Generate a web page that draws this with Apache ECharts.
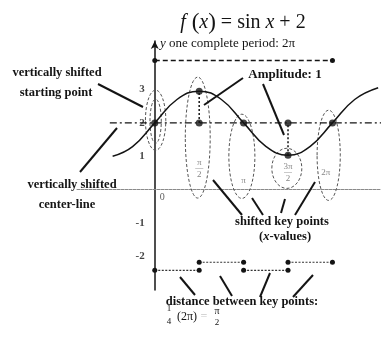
<!DOCTYPE html>
<html>
<head>
<meta charset="utf-8">
<script src="https://cdn.jsdelivr.net/npm/echarts@6/dist/echarts.min.js"></script>
<style>
html, body { margin: 0; padding: 0; background: #fff; }
#main { width: 381px; height: 347px; }
</style>
</head>
<body>
<div id="main"></div>
<script>
// curve f(x) = sin x + 2 at quarter-period steps
var curveX = [-1.49, -0.785, 0, 0.785, 1.571, 2.356, 3.142, 3.927, 4.712, 5.498, 6.283, 7.069, 7.9];
var curveY = [1.0, 1.29, 2, 2.7, 2.95, 2.7, 2, 1.3, 1.03, 1.3, 2, 2.7, 3.05];

// key points on the curve and the center-line points under the extremes
var keyX = [0, 1.571, 3.142, 4.712, 6.283];
var keyY = [2, 2.95, 2, 1.03, 2];
var midX = [1.571, 4.712];
var midY = [2, 2];
var centerY = 2;

// labels of the key points (x-values)
var keyLabels = ['π/2', 'π', '3π/2', '2π'];
var keyLabelX = [1.571, 3.142, 4.712, 6.05];
var keyLabelY = [0.64, 0.28, 0.52, 0.52];

// distance between key points, bottom row
var segStart = [0, 1.571, 3.142, 4.712];
var segEnd = [1.571, 3.142, 4.712, 6.283];
var segY = [-2.41, -2.17, -2.41, -2.17];

// one complete period
var periodX = [0, 6.283];
var periodY = 3.87;

// y tick labels
var yTicks = [3, 2, 1, -1, -2];

// dashed ellipses round the key points: [cx, cy, rx, ry]
var ellipses = [
    [0.03, 2.08, 0.36, 0.9],
    [0.03, 2.05, 0.2, 0.66],
    [1.52, 1.56, 0.44, 1.81],
    [3.08, 1.0, 0.46, 1.26],
    [4.67, 0.64, 0.53, 0.6],
    [6.15, 1.03, 0.41, 1.35]
];

var serif = '"Liberation Serif", "DejaVu Serif", serif';
var ink = '#141414';

function pairs(xs, ys) {
    return xs.map(function (x, i) { return [x, ys[i]]; });
}

var segData = [];
segStart.forEach(function (s, i) {
    segData.push([s, segY[i]], [segEnd[i], segY[i]], '-');
});

var chart = echarts.init(document.getElementById('main'));

// pointer lines of the annotations, in pixels
var pointers = [
    [98, 84, 143, 107],
    [80, 172, 117, 128],
    [243, 78, 204, 105],
    [263, 84, 284, 135],
    [213, 180, 242, 215],
    [252, 198, 263, 215],
    [285, 199, 281, 213],
    [315, 182, 295, 215],
    [180, 277, 195, 295],
    [220, 276, 232, 296],
    [270, 273, 260, 297],
    [313, 275, 293, 297]
];

function txt(x, y, text, size, align, extra) {
    var st = { text: text, font: (size || 13) + 'px ' + serif, fill: ink, align: align || 'center', verticalAlign: 'middle' };
    if (extra) { for (var k in extra) st[k] = extra[k]; }
    return { type: 'text', x: x, y: y, style: st, z: 10 };
}

function note(x, y, text, size) {
    return txt(x, y, text, size, 'center', { font: 'bold ' + size + 'px ' + serif });
}

var graphics = pointers.map(function (p) {
    return { type: 'line', shape: { x1: p[0], y1: p[1], x2: p[2], y2: p[3] }, style: { stroke: ink, lineWidth: 2 }, z: 10 };
});

graphics.push(
    txt(243, 23, '{i|f}{p| (}{i|x}{p|)} = sin {i|x} + 2', 20, 'center', {
        rich: {
            i: { fontStyle: 'italic', fontFamily: serif, fontSize: 20, fill: ink },
            p: { fontFamily: serif, fontSize: 23, fill: ink }
        }
    }),
    txt(160, 44, '{i|y} one complete period: 2π', 13, 'left', {
        rich: { i: { fontStyle: 'italic', fontFamily: serif, fontSize: 13, fill: ink } }
    }),
    note(57, 73, 'vertically shifted', 12.5),
    note(56, 93, 'starting point', 12.5),
    note(72, 185, 'vertically shifted', 12.5),
    note(67, 205, 'center-line', 12.5),
    note(285, 75, 'Amplitude: 1', 13),
    note(282, 222, 'shifted key points', 12.5),
    txt(285, 237, '({i|x}-values)', 12.5, 'center', {
        font: 'bold 12.5px ' + serif,
        rich: { i: { fontStyle: 'italic', fontWeight: 'bold', fontFamily: serif, fontSize: 12.5, fill: ink } }
    }),
    note(242, 302, 'distance between key points:', 12.5),
    txt(169, 309, '1', 9),
    txt(169, 322, '4', 9),
    txt(187, 317, '(2π)', 12),
    txt(204, 317, '=', 12, 'center', { fill: '#c8c8c8' }),
    txt(217, 311, 'π', 10),
    txt(217, 323, '2', 9)
);

var option = {
    animation: false,
    backgroundColor: '#fff',
    grid: { left: 77, right: 0, top: 41, bottom: 57 },
    xAxis: {
        type: 'value',
        min: -2.75,
        max: 8,
        axisLine: { onZero: true, lineStyle: { color: '#8a8a8a', width: 1, type: [3, 1] } },
        axisTick: { show: false },
        axisLabel: { show: false },
        splitLine: { show: false }
    },
    yAxis: {
        type: 'value',
        min: -3,
        max: 4.45,
        axisLine: { show: true, onZero: true, symbol: ['none', 'arrow'], symbolSize: [6, 8], lineStyle: { color: ink, width: 1.5 } },
        axisTick: { show: false },
        axisLabel: { show: false },
        splitLine: { show: false }
    },
    graphic: graphics,
    series: [
        {
            type: 'line',
            data: [[-1.59, centerY], [8, centerY]],
            symbol: 'none',
            lineStyle: { color: ink, width: 1.3, type: [7, 3, 2, 3] },
            z: 2
        },
        {
            type: 'line',
            data: pairs(curveX, curveY),
            smooth: 0.45,
            symbol: 'none',
            lineStyle: { color: ink, width: 1.5 },
            z: 3
        },
        {
            type: 'line',
            data: [[midX[0], midY[0]], [keyX[1], keyY[1]], '-', [keyX[3], keyY[3]], [midX[1], midY[1]]],
            symbol: 'none',
            lineStyle: { color: ink, width: 1.5, type: [2, 2] },
            z: 3
        },
        {
            type: 'custom',
            renderItem: function (params, api) {
                var c = api.coord([api.value(0), api.value(1)]);
                var s = api.size([api.value(2), api.value(3)]);
                return {
                    type: 'ellipse',
                    shape: { cx: c[0], cy: c[1], rx: s[0], ry: s[1] },
                    style: { fill: 'none', stroke: '#555', lineWidth: 1, lineDash: [3, 2] }
                };
            },
            encode: { x: 0, y: 1 },
            data: ellipses,
            z: 1
        },
        {
            type: 'scatter',
            data: pairs(keyX, keyY).concat(pairs(midX, midY)),
            symbol: 'circle',
            symbolSize: 7,
            itemStyle: { color: ink },
            z: 5
        },
        {
            type: 'line',
            data: segData,
            symbol: 'circle',
            symbolSize: 5,
            showSymbol: true,
            itemStyle: { color: ink },
            lineStyle: { color: '#333', width: 1.2, type: [2, 1.5] },
            z: 4
        },
        {
            type: 'line',
            data: [[periodX[0], periodY], [periodX[1], periodY]],
            symbol: 'circle',
            symbolSize: 5,
            itemStyle: { color: ink },
            lineStyle: { color: ink, width: 1.5, type: [5, 3] },
            z: 4
        },
        {
            type: 'scatter',
            data: yTicks.map(function (v) { return [0, v]; }),
            symbolSize: 0,
            label: {
                show: true,
                position: 'left',
                distance: 10,
                formatter: function (p) { return String(p.value[1]); },
                fontFamily: serif,
                fontWeight: 'bold',
                fontSize: 11,
                color: ink
            },
            z: 6
        },
        {
            type: 'scatter',
            data: [[0, 0]],
            symbolSize: 0,
            label: { show: true, formatter: '0', position: 'right', offset: [0, 8], fontFamily: serif, fontSize: 10, color: '#333' },
            z: 6
        },
        {
            type: 'scatter',
            data: pairs(keyLabelX, keyLabelY),
            symbolSize: 0,
            label: {
                show: true,
                position: 'inside',
                formatter: function (p) {
                    var t = keyLabels[p.dataIndex];
                    var parts = t.split('/');
                    if (parts.length === 2) return '{s|' + parts[0] + '}\n{b|―}\n{s|' + parts[1] + '}';
                    return '{s|' + t + '}';
                },
                rich: {
                    s: { fontFamily: serif, fontSize: 9, color: '#666', lineHeight: 8 },
                    b: { fontFamily: serif, fontSize: 8, color: '#666', lineHeight: 4 }
                }
            },
            z: 6
        }
    ]
};

chart.setOption(option);
</script>
</body>
</html>
